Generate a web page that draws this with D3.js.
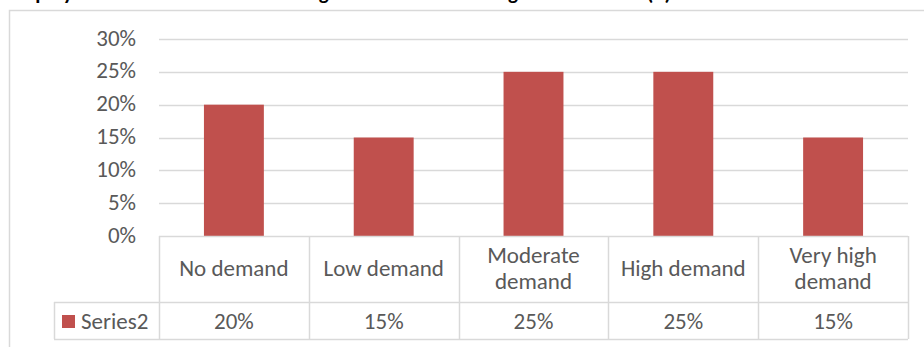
<!DOCTYPE html>
<html>
<head>
<meta charset="utf-8">
<script src="https://cdn.jsdelivr.net/npm/d3@7/dist/d3.min.js"></script>
<style>
  html, body { margin: 0; padding: 0; background: #fff; }
  svg { display: block; font-family: Carlito, Lato, "Open Sans", sans-serif; }
</style>
</head>
<body>
<svg id="chart" width="924" height="347"></svg>
<script>
// Data
const categories = [["No demand"], ["Low demand"], ["Moderate", "demand"], ["High demand"], ["Very high", "demand"]];
const values = [0.20, 0.15, 0.25, 0.25, 0.15];
const seriesName = "Series2";
const yTicks = [0, 0.05, 0.10, 0.15, 0.20, 0.25, 0.30];
const titleText = "Employer demand for the technical graduates from the region since 2018 (n)";

const svg = d3.select("#chart");
const W = 924, H = 347;
const grid = "#d9d9d9", textCol = "#595959", barCol = "#c0504d";
const fs = 23;

const plot = { left: 159, right: 908, top: 39, bottom: 236 };
const rowCat = 302, rowVal = 339;
const legendLeft = 54;

const x = d3.scaleBand().domain(d3.range(categories.length))
  .range([plot.left, plot.right]).paddingInner(0.6).paddingOuter(0.3);
const xCell = d3.scaleBand().domain(d3.range(categories.length))
  .range([plot.left, plot.right]);
const y = d3.scaleLinear().domain([0, 0.30]).range([plot.bottom, plot.top]);

// Chart frame (top and left edges)
svg.append("path")
  .attr("d", `M9.5,${H} V10.5 H${W}`)
  .attr("fill", "none").attr("stroke", grid).attr("stroke-width", 1.5);

// Title (sits above the frame)
svg.append("text")
  .attr("x", 8).attr("y", 0)
  .attr("font-weight", "bold").attr("font-size", 21).attr("fill", "#000")
  .text(titleText);

// Gridlines
svg.append("g").selectAll("line").data(yTicks.filter(d => d > 0)).join("line")
  .attr("x1", plot.left).attr("x2", plot.right)
  .attr("y1", d => Math.round(y(d)) + 0.5).attr("y2", d => Math.round(y(d)) + 0.5)
  .attr("stroke", grid).attr("stroke-width", 1.3);

// Y axis labels
const fmt = d3.format(".0%");
svg.append("g").selectAll("text").data(yTicks).join("text")
  .attr("x", 136).attr("y", d => y(d) - 1.5).attr("dy", "0.35em")
  .attr("text-anchor", "end").attr("font-size", fs).attr("fill", textCol)
  .text(d => fmt(d));

// Bars
svg.append("g").selectAll("rect").data(values).join("rect")
  .attr("x", (d, i) => x(i)).attr("width", x.bandwidth())
  .attr("y", d => y(d)).attr("height", d => y(0) - y(d))
  .attr("fill", barCol);

// Data table
const tbl = svg.append("g").attr("stroke", grid).attr("stroke-width", 1.5).attr("fill", "none");
tbl.append("line").attr("x1", plot.left).attr("x2", plot.right).attr("y1", plot.bottom + 0.5).attr("y2", plot.bottom + 0.5);
tbl.append("line").attr("x1", legendLeft).attr("x2", plot.right).attr("y1", rowCat + 0.5).attr("y2", rowCat + 0.5);
tbl.append("line").attr("x1", legendLeft).attr("x2", plot.right).attr("y1", rowVal + 0.5).attr("y2", rowVal + 0.5);
tbl.append("line").attr("x1", legendLeft + 0.5).attr("x2", legendLeft + 0.5).attr("y1", rowCat).attr("y2", rowVal);
const edges = d3.range(categories.length).map(i => xCell(i)).concat([plot.right]);
tbl.selectAll("line.v").data(edges).join("line").attr("class", "v")
  .attr("x1", d => Math.round(d) + 0.5).attr("x2", d => Math.round(d) + 0.5)
  .attr("y1", plot.bottom).attr("y2", rowVal);

// Category labels
const catG = svg.append("g").attr("font-size", fs).attr("fill", textCol).attr("text-anchor", "middle");
categories.forEach((lines, i) => {
  const cx = xCell(i) + xCell.bandwidth() / 2;
  const mid = (plot.bottom + rowCat) / 2 - 1;
  const lh = 26;
  const t = catG.append("text").attr("x", cx);
  lines.forEach((ln, j) => {
    t.append("tspan").attr("x", cx)
      .attr("y", mid + (j - (lines.length - 1) / 2) * lh)
      .attr("dy", "0.35em").text(ln);
  });
});

// Value row
svg.append("g").selectAll("text").data(values).join("text")
  .attr("x", (d, i) => xCell(i) + xCell.bandwidth() / 2)
  .attr("y", (rowCat + rowVal) / 2).attr("dy", "0.35em")
  .attr("text-anchor", "middle").attr("font-size", fs).attr("fill", textCol)
  .text(d => fmt(d));

// Legend key inside the table
svg.append("rect").attr("x", 62).attr("y", 315).attr("width", 13).attr("height", 13).attr("fill", barCol);
svg.append("text").attr("x", 81).attr("y", (rowCat + rowVal) / 2).attr("dy", "0.35em")
  .attr("font-size", fs).attr("fill", textCol).text(seriesName);
</script>
</body>
</html>
